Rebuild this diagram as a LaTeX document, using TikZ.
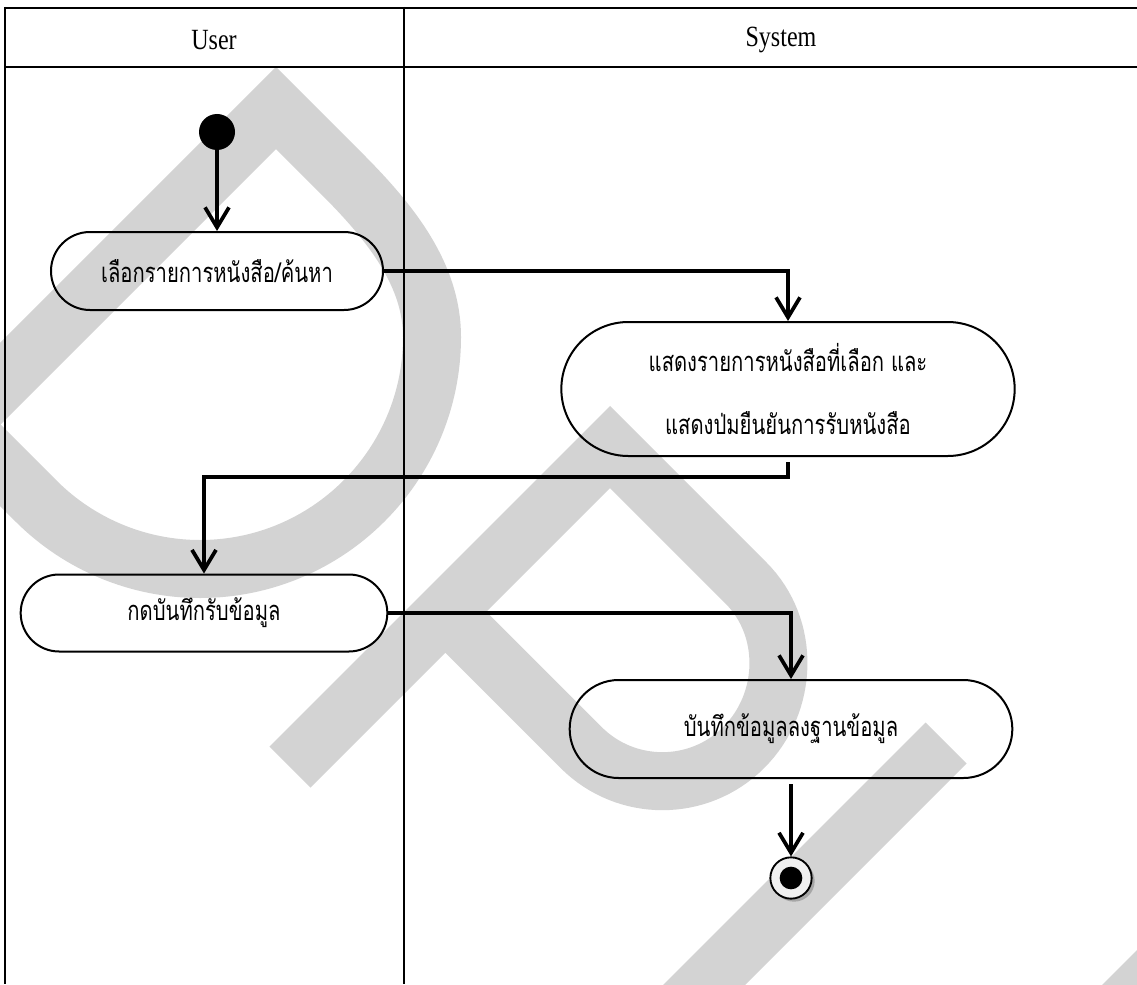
\documentclass[tikz,border=0pt]{standalone}
\usepackage{fontspec}
\setmainfont{Liberation Serif}
\newfontfamily\hdrfont[FakeStretch=0.82]{Liberation Serif}
\newfontfamily\thaifont[Script=Thai,FakeStretch=0.74]{Loma}
\usetikzlibrary{arrows.meta,shapes.misc}
\definecolor{wmgray}{RGB}{211,211,211}
\begin{document}
\begin{tikzpicture}[x=0.75pt,y=-0.75pt,
  lane/.style={line width=1.6pt},
  hline/.style={line width=2.2pt},
  band/.style={draw=wmgray,line width=43.5pt,line join=miter,line cap=butt},
  act/.style={rounded rectangle,draw,line width=1.5pt,inner sep=0pt,align=center,
    font=\thaifont\fontsize{20.5}{47}\selectfont},
  flow/.style={line width=2.8pt,-{Straight Barb[length=15pt,width=18pt]}},
  hdr/.style={font=\hdrfont\fontsize{22}{26}\selectfont}]
\useasboundingbox (0,0) rectangle (1137,984);

% background letters, clipped to the page
\begin{scope}
  \clip (0,0) rectangle (1137,984);
  \draw[band] (-40.5,424.5) -- (276,108) -- (342,174)
     .. controls (392,224) and (432,275.5) .. (432,337)
     .. controls (432,465) and (328,569) .. (200,569)
     .. controls (138.5,569) and (79.5,544.5) .. (36,501) -- cycle;
  \draw[band] (290,767) -- (610,447) -- (745.8,582.8)
     .. controls (790.7,627.7) and (788.6,702.6) .. (743.7,747.5)
     .. controls (698.8,792.4) and (626,792.4) .. (581.1,747.5)
     -- (445.3,611.7);
  \draw[band] (946,743) -- (680,1009)
     .. controls (619.5,1069.5) and (619.5,1167.5) .. (680,1228)
     .. controls (740.5,1288.5) and (839,1289) .. (899.6,1228.6)
     -- (1200,928);
\end{scope}

% swimlane frame
\draw[hline] (5,8) -- (1137,8);
\draw[hline] (5,67) -- (1137,67);
\draw[lane] (5,7) -- (5,984);
\draw[lane] (404,7) -- (404,984);
\node[hdr] (user) at (214,40) {User};
\node[hdr] (system) at (781,40) {System};

% activities
\node[circle,fill=black,inner sep=0pt,minimum size=27pt] (start) at (217,132) {};
\node[act,minimum width=249pt,minimum height=58.5pt] (n1) at (217,271)
  {เลือกรายการหนังสือ/ค้นหา};
\node[act,minimum width=340pt,minimum height=100.5pt] (n2) at (788,389)
  {แสดงรายการหนังสือที่เลือก และ\\แสดงป่มยืนยันการรับหนังสือ};
\node[act,minimum width=275pt,minimum height=57.75pt] (n3) at (204,613)
  {กดบันทึกรับข้อมูล};
\node[act,minimum width=332pt,minimum height=73.5pt] (n4) at (791,729)
  {บันทึกข้อมูลลงฐานข้อมูล};

% final state with its shadow
\fill[gray!70] (794,881) circle[radius=15.5pt];
\node[circle,draw,line width=1.4pt,fill=gray!12,inner sep=0pt,minimum size=31pt] (end) at (791,878) {};
\node[circle,fill=black,inner sep=0pt,minimum size=17pt] (enddot) at (end.center) {};

% control flow
\draw[flow] (start.south) -- (n1.north);
\draw[flow] (n1.east) -| (n2.north);
\draw[flow,shorten <=4pt] (n2.south) -- ++(0,20) -| (n3.north);
\draw[flow] (n3.east) -| (n4.north);
\draw[flow,shorten <=4pt] (n4.south) -- (end.north);
\end{tikzpicture}
\end{document}
